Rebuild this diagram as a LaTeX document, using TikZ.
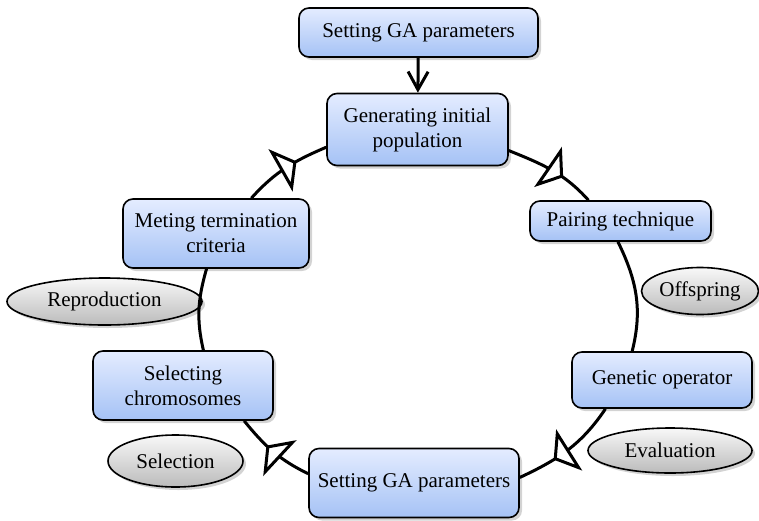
\documentclass[tikz,border=0pt]{standalone}
\usepackage{fontspec}
\setmainfont{Liberation Serif}
\usetikzlibrary{arrows.meta,shapes.geometric,shadows,decorations.markings}
\definecolor{boxtop}{HTML}{E4ECFF}
\definecolor{boxbottom}{HTML}{A5C2F5}
\definecolor{ovaltop}{HTML}{F8F8F8}
\definecolor{ovalbottom}{HTML}{BBBBBB}

\begin{document}
\begin{tikzpicture}[x=0.5pt,y=-0.5pt,
  box/.style={rectangle,draw,line width=0.8pt,rounded corners=5pt,
    top color=boxtop,bottom color=boxbottom,
    drop shadow={shadow xshift=1.5pt,shadow yshift=-1.5pt,opacity=0.35},
    align=center,inner sep=0pt,font=\fontsize{10.5}{12.5}\selectfont},
  oval/.style={ellipse,draw,line width=0.8pt,
    top color=ovaltop,bottom color=ovalbottom,
    drop shadow={shadow xshift=1.5pt,shadow yshift=-1.5pt,opacity=0.35},
    inner sep=0pt,font=\fontsize{10.5}{12.5}\selectfont},
  ring/.style={line width=1.5pt},
  midarrow/.style={postaction={decorate},decoration={markings,
    mark=at position #1 with {\draw[line width=1.5pt,fill=white,line join=miter]
      (0pt,0pt) -- (-7.5pt,10pt) -- (-7.5pt,-10pt) -- cycle;}}},
  arr/.style={-{Straight Barb[length=9pt,width=10pt]},line width=1.5pt}]

  \useasboundingbox (0,0) rectangle (759,520);

  \node[box,minimum width=119.5pt,minimum height=24.5pt] (setup) at (418.5,32.5) {Setting GA parameters};
  \node[box,minimum width=90.5pt,minimum height=36pt] (init) at (417.5,129.5) {Generating initial\\population};
  \node[box,minimum width=90.5pt,minimum height=20pt] (pair) at (620.5,221) {Pairing technique};
  \node[box,minimum width=90pt,minimum height=28pt] (oper) at (662,380) {Genetic operator};
  \node[box,minimum width=105pt,minimum height=34.5pt] (final) at (414,483) {Setting GA parameters};
  \node[box,minimum width=90pt,minimum height=34.5pt] (select) at (183,385.5) {Selecting\\chromosomes};
  \node[box,minimum width=93pt,minimum height=34.5pt] (meet) at (216,233.5) {Meting termination\\criteria};

  \node[oval,minimum width=58.5pt,minimum height=23.5pt] (offs) at (700,291) {Offspring};
  \node[oval,minimum width=97.5pt,minimum height=23.5pt] (repro) at (104.5,301.5) {Reproduction};
  \node[oval,minimum width=67.5pt,minimum height=26pt] (selec) at (175.5,461) {Selection};
  \node[oval,minimum width=82pt,minimum height=22.5pt] (evalu) at (670,450.5) {Evaluation};

  \draw[arr] (setup) -- (init);

  \draw[ring,midarrow=0.62] (init.-13) to[out=-22,in=132] (pair.147);
  \draw[ring] (pair.263) to[out=-64,in=76] (oper.136);
  \draw[ring,midarrow=0.64] (oper.207) to[out=-124,in=25] (final.3);
  \draw[ring,midarrow=0.58] (final.175) to[out=154,in=-51] (select.-30);
  \draw[ring] (select.60) to[out=103,in=-106] (meet.255);
  \draw[ring,midarrow=0.62] (meet.45) to[out=48,in=-157] (init.191);
\end{tikzpicture}
\end{document}
